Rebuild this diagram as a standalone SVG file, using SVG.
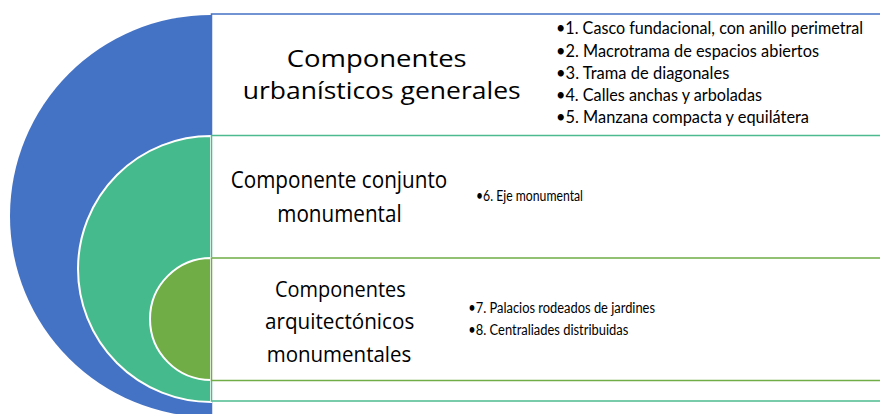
<svg xmlns="http://www.w3.org/2000/svg" width="880" height="414" viewBox="0 0 880 414">
<style>
.t{font-family:Lato,"Open Sans","Liberation Sans",sans-serif;fill:#000}
.o{font-family:"Open Sans",Lato,"Liberation Sans",sans-serif}
.h1{font-size:24px}
.h2{font-size:23px}
.h3{font-size:22px}
.l1{font-size:17.5px}
.l2{font-size:14.8px}
.box{fill:#fff;stroke-width:1.5}
.disc{stroke:#fff;stroke-width:2}
</style>
<rect width="880" height="414" fill="#fff"/>
<g id="node-urbanisticos">
<path d="M211,15 A201,201 0 0 0 211,417 Z" fill="#4472C4"/>
<rect class="box" x="211.5" y="14" width="700" height="410" stroke="#4472C4"/>
<text class="t o h1" x="286.7" y="66.7" textLength="180" lengthAdjust="spacingAndGlyphs">Componentes</text>
<text class="t o h1" x="242.7" y="99.3" textLength="278" lengthAdjust="spacingAndGlyphs">urbanísticos generales</text>
<text class="t l1" x="556" y="34.3" textLength="307" lengthAdjust="spacingAndGlyphs">•1. Casco fundacional, con anillo perimetral</text>
<text class="t l1" x="556" y="56.7" textLength="263" lengthAdjust="spacingAndGlyphs">•2. Macrotrama de espacios abiertos</text>
<text class="t l1" x="556" y="79" textLength="173.3" lengthAdjust="spacingAndGlyphs">•3. Trama de diagonales</text>
<text class="t l1" x="556" y="101.2" textLength="206" lengthAdjust="spacingAndGlyphs">•4. Calles anchas y arboladas</text>
<text class="t l1" x="556" y="123.3" textLength="253" lengthAdjust="spacingAndGlyphs">•5. Manzana compacta y equilátera</text>
</g>
<g id="node-conjunto">
<path class="disc" d="M211,136 A133,133 0 0 0 211,402 Z" fill="#45BB8D"/>
<rect class="box" x="211.5" y="135.5" width="700" height="265.5" stroke="#4DBB8F"/>
<text class="t o h2" x="230.7" y="188.3" textLength="216.6" lengthAdjust="spacingAndGlyphs">Componente conjunto</text>
<text class="t o h2" x="277.3" y="221.7" textLength="124.4" lengthAdjust="spacingAndGlyphs">monumental</text>
<text class="t l2" x="476" y="201" textLength="107" lengthAdjust="spacingAndGlyphs">•6. Eje monumental</text>
</g>
<g id="node-arquitectonicos">
<path class="disc" d="M211,258 A61,61 0 0 0 211,380 Z" fill="#70AD47"/>
<rect class="box" x="211.5" y="258" width="700" height="122.5" stroke="#70AD47"/>
<text class="t o h3" x="275" y="297" textLength="130.7" lengthAdjust="spacingAndGlyphs">Componentes</text>
<text class="t o h3" x="265" y="329" textLength="149.3" lengthAdjust="spacingAndGlyphs">arquitectónicos</text>
<text class="t o h3" x="266.7" y="361.7" textLength="144.6" lengthAdjust="spacingAndGlyphs">monumentales</text>
<text class="t l2" x="468.3" y="313.3" textLength="186.7" lengthAdjust="spacingAndGlyphs">•7. Palacios rodeados de jardines</text>
<text class="t l2" x="468.3" y="335" textLength="160" lengthAdjust="spacingAndGlyphs">•8. Centraliades distribuidas</text>
</g>
</svg>
